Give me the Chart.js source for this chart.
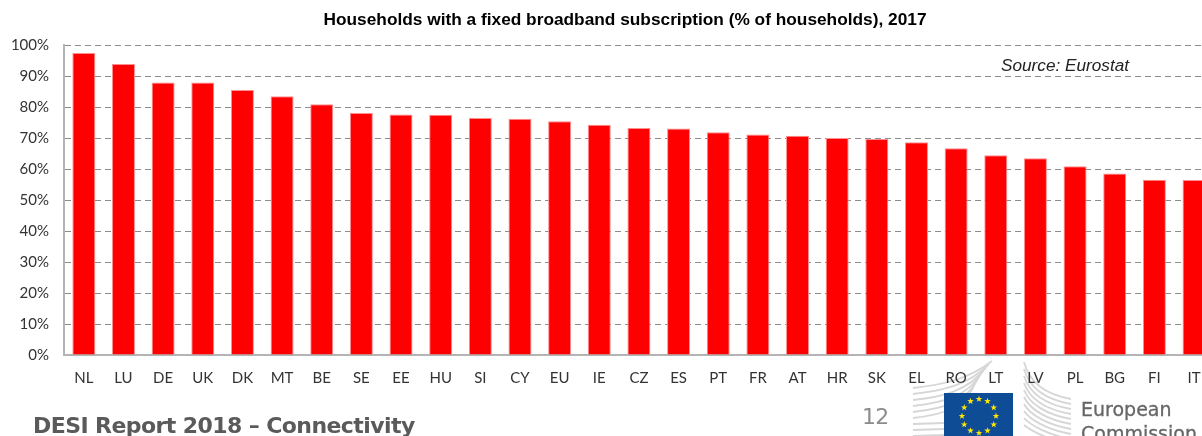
<!DOCTYPE html>
<html><head><meta charset="utf-8">
<script src="https://cdn.jsdelivr.net/npm/chart.js@4"></script>
<style>
html,body{margin:0;padding:0;background:#fff;width:1202px;height:436px;overflow:hidden}
#wrap{position:relative;width:1202px;height:436px;overflow:hidden}
canvas{position:absolute;left:0;top:0}
.t{position:absolute;white-space:nowrap;line-height:1}
svg{position:absolute;left:0;top:0}
</style></head><body>
<div id="wrap">
<svg id="logo" width="1202" height="436" viewBox="0 0 1202 436"></svg>
<canvas id="c" width="1250" height="436" style="width:1250px;height:436px"></canvas>
<div class="t" style="left:1001px;top:55px;font:italic 17.2px 'Liberation Sans';color:#222">Source: Eurostat</div>
<div class="t" style="left:33px;top:413px;font:bold 22px 'DejaVu Sans';color:#5a5a5a;letter-spacing:-.58px">DESI Report 2018 – Connectivity</div>
<div class="t" style="left:862px;top:404px;font:22px 'DejaVu Sans';color:#8c8c8c;letter-spacing:-.8px">12</div>
<div class="t" style="left:1081px;top:398px;font:19px 'DejaVu Sans';color:#666;-webkit-text-stroke:.3px #666">European</div>
<div class="t" style="left:1081px;top:422px;font:19px 'DejaVu Sans';color:#666;-webkit-text-stroke:.3px #666">Commission</div>
</div>
<script>
const categories=["NL","LU","DE","UK","DK","MT","BE","SE","EE","HU","SI","CY","EU","IE","CZ","ES","PT","FR","AT","HR","SK","EL","RO","LT","LV","PL","BG","FI","IT"];
const households=[97.6,94,88,88,85.6,83.6,81,78.2,77.7,77.6,76.6,76.3,75.5,74.4,73.3,73.2,72,71.2,70.8,70.1,69.8,68.7,66.8,64.5,63.6,61,58.6,56.6,56.5];
const titleText="Households with a fixed broadband subscription (% of households), 2017";
const tickFont={family:"Lato",size:15};
new Chart(document.getElementById('c'),{
 type:'bar',
 data:{labels:categories,datasets:[{data:households,backgroundColor:'#ff0000',borderColor:'#ff8f8f',borderWidth:{left:1,right:1,top:1,bottom:0},barPercentage:.58,categoryPercentage:1}]},
 options:{responsive:false,animation:false,
  layout:{padding:0},
  plugins:{legend:{display:false},tooltip:{enabled:false},
   title:{display:true,text:titleText,color:'#000',font:{family:"Liberation Sans",size:17.3,weight:'bold'},padding:{top:10,bottom:14.7},align:'center'}},
  scales:{
   x:{afterFit(s){s.height=81},grid:{display:false},border:{color:'#b4b4b4',width:2},
      ticks:{color:'#333',font:tickFont,maxRotation:0,autoSkip:false,padding:6}},
   y:{min:0,max:100,afterFit(s){s.width=64},grid:{color:'#8c8c8c',lineWidth:1,drawTicks:false},border:{color:'#b4b4b4',width:2,dash:[6,4]},
      ticks:{stepSize:10,color:'#333',font:tickFont,padding:15,callback:v=>v+'%'}},
   y2:{position:'right',min:0,max:100,afterFit(s){s.width=36.15},grid:{display:false},border:{display:false},ticks:{display:false}}
  }
 }
});
</script>
<script>
// Decorative EC logo
const NS='http://www.w3.org/2000/svg',S=document.getElementById('logo');
function el(n,a){const e=document.createElementNS(NS,n);for(const k in a)e.setAttribute(k,a[k]);S.appendChild(e);return e}
for(let i=0;i<9;i++){const y=388+i*6;
 const ex=992-i*3, ey=361+i*3.2;
 el('path',{d:i<6?`M913 ${y} C940 ${y-3} 968 ${y-8} ${ex} ${ey}`:`M913 ${y} L944 ${y-1}`,fill:'none',stroke:'#d6d6d6','stroke-width':1.8});}
for(let i=0;i<10;i++){const y=399+i*5;
 el('path',{d:`M1071 ${y} C1048 ${y-4} 1030 ${y-14} 1024 ${362+i*7}`,fill:'none',stroke:'#d6d6d6','stroke-width':1.8});}
el('rect',{x:944,y:393,width:69,height:43,fill:'#0f4c96'});
for(let i=0;i<12;i++){const a=i*Math.PI/6,cx=979+17*Math.sin(a),cy=416-17*Math.cos(a);let p=[];
 for(let k=0;k<10;k++){const r=k%2?1.4:3.5,b=k*Math.PI/5;p.push((cx+r*Math.sin(b)).toFixed(1)+','+(cy-r*Math.cos(b)).toFixed(1))}
 el('polygon',{points:p.join(' '),fill:'#ffe600'});}
</script>
</body></html>
